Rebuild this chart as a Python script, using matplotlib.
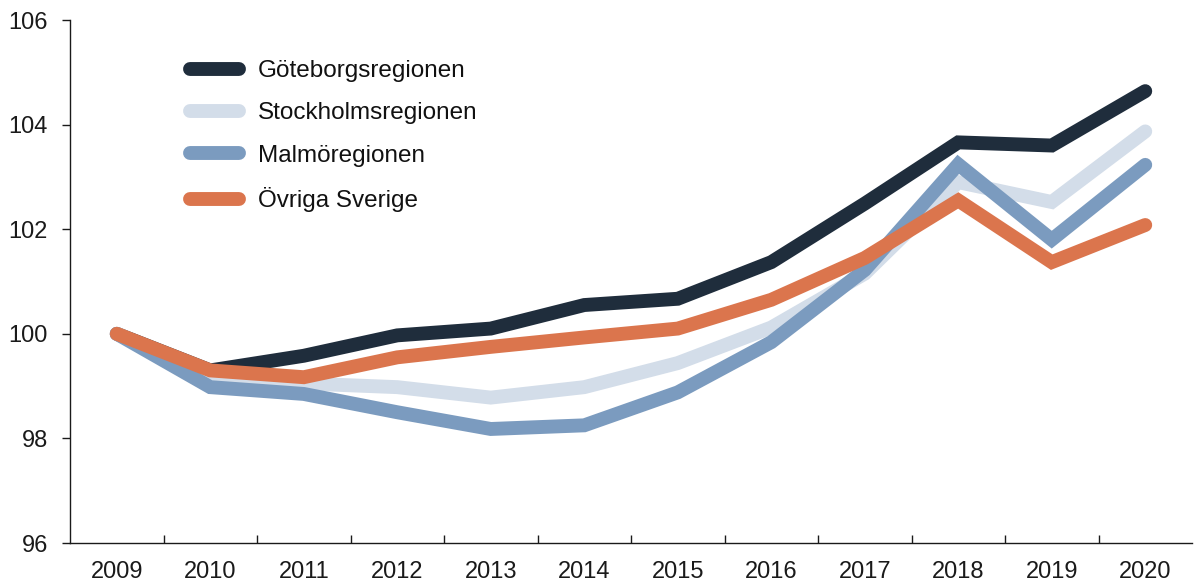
import matplotlib
matplotlib.use("Agg")

import matplotlib.pyplot as plt
import numpy as np

plt.rcParams.update({
    "font.family": ["Liberation Sans", "DejaVu Sans"],
    "font.size": 17,
    "axes.edgecolor": "#1a1a1a",
    "text.color": "#111111",
    "xtick.color": "#1a1a1a",
    "ytick.color": "#1a1a1a",
})

years = ["2009", "2010", "2011", "2012", "2013", "2014",
         "2015", "2016", "2017", "2018", "2019", "2020"]

goteborg = [100.0, 99.30, 99.58, 99.97, 100.10, 100.55,
            100.67, 101.37, 102.49, 103.66, 103.60, 104.64]
stockholm = [100.0, 99.20, 99.05, 98.98, 98.78, 98.98,
             99.44, 100.12, 101.15, 102.90, 102.52, 103.87]
malmo = [100.0, 98.98, 98.85, 98.50, 98.18, 98.25,
         98.88, 99.84, 101.22, 103.24, 101.80, 103.23]
ovriga = [100.0, 99.30, 99.17, 99.55, 99.75, 99.93,
          100.10, 100.65, 101.45, 102.55, 101.37, 102.08]

series = [
    ("Göteborgsregionen", goteborg, "#1f2d3c"),
    ("Stockholmsregionen", stockholm, "#d3dde9"),
    ("Malmöregionen", malmo, "#7b9bbf"),
    ("Övriga Sverige", ovriga, "#db754d"),
]

fig = plt.figure(figsize=(11.96, 5.86), dpi=100)
ax = fig.add_axes([70 / 1196, 43 / 586, 1122 / 1196, 523 / 586])

x = np.arange(len(years))
for label, values, color in series:
    ax.plot(x, values, color=color, linewidth=10, label=label,
            solid_capstyle="round", solid_joinstyle="miter")

ax.set_xlim(-0.5, len(years) - 0.5)
ax.set_ylim(96, 106)
ax.set_yticks([96, 98, 100, 102, 104, 106])

ax.set_xticks(x)
ax.set_xticklabels(years)
ax.set_xticks(np.arange(0.5, len(years) - 0.5, 1), minor=True)
ax.tick_params(axis="x", which="major", length=0, pad=13)
ax.tick_params(axis="x", which="minor", direction="in", length=6, width=1)
ax.tick_params(axis="y", direction="out", length=6, width=1, pad=10)

for side in ["top", "right"]:
    ax.spines[side].set_visible(False)
ax.spines["left"].set_linewidth(1)
ax.spines["bottom"].set_linewidth(1)

ax.legend(loc="upper left", bbox_to_anchor=(190 / 1196, 1 - 60 / 586),
          bbox_transform=fig.transFigure, frameon=False, fontsize=17.5,
          handlelength=2.0, handletextpad=0.8, labelspacing=0.84,
          borderpad=0, borderaxespad=0)

fig.savefig("out.png", dpi=100)
